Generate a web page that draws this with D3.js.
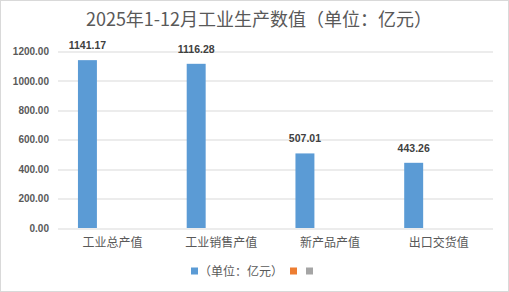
<!DOCTYPE html>
<html>
<head>
<meta charset="utf-8">
<script src="https://cdn.jsdelivr.net/npm/d3@7"></script>
<style>
  body { margin: 0; background: #fff; }
  text { font-family: "Noto Sans CJK SC", "Liberation Sans", sans-serif; }
</style>
</head>
<body>
<div id="chart"></div>
<script>
// data
const categories = ["工业总产值", "工业销售产值", "新产品产值", "出口交货值"];
const seriesNames = ["（单位：亿元）", "", ""];
const seriesColors = ["#5b9bd5", "#ed7d31", "#a5a5a5"];
const values = [1141.17, 1116.28, 507.01, 443.26];
const yTicks = [0, 200, 400, 600, 800, 1000, 1200];

const W = 509, H = 292;
const margin = {top: 51.5, right: 16, bottom: 64, left: 58};
const width = W - margin.left - margin.right;
const height = H - margin.top - margin.bottom;

const svg = d3.select("#chart").append("svg")
  .attr("width", W).attr("height", H);

svg.append("rect")
  .attr("x", 0.5).attr("y", 0.5)
  .attr("width", W - 1).attr("height", H - 1)
  .attr("fill", "#fff").attr("stroke", "#d9d9d9");

svg.append("text")
  .attr("x", 259).attr("y", 26)
  .attr("text-anchor", "middle")
  .attr("font-size", 18)
  .attr("fill", "#595959")
  .text("2025年1-12月工业生产数值（单位：亿元）");

const g = svg.append("g")
  .attr("transform", "translate(" + margin.left + "," + margin.top + ")");

const x0 = d3.scaleBand().domain(categories).range([0, width]).paddingInner(0).paddingOuter(0);
const x1 = d3.scaleBand().domain([0, 1, 2]).range([0, x0.bandwidth()])
  .paddingInner(0.24).paddingOuter(0.8);
const y = d3.scaleLinear().domain([0, 1200]).range([height, 0]);

// grid
g.selectAll(".grid")
  .data(yTicks)
  .enter().append("line")
  .attr("class", "grid")
  .attr("x1", 0).attr("x2", width)
  .attr("y1", d => Math.round(y(d)) + 0.5)
  .attr("y2", d => Math.round(y(d)) + 0.5)
  .attr("stroke", "#d9d9d9");

// y axis labels
const yAxis = g.append("g")
  .call(d3.axisLeft(y).tickValues(yTicks).tickFormat(d3.format(".2f")).tickSize(0).tickPadding(9));
yAxis.select(".domain").remove();
yAxis.selectAll("text")
  .attr("font-size", 10).attr("font-weight", "bold")
  .attr("fill", "#595959")
  .style("font-family", "'Liberation Sans', sans-serif");

// x axis labels
const xAxis = g.append("g")
  .attr("transform", "translate(0," + height + ")")
  .call(d3.axisBottom(x0).tickSize(0).tickPadding(10));
xAxis.select(".domain").remove();
xAxis.selectAll("text")
  .attr("font-size", 12).attr("fill", "#595959");

// bars
g.selectAll(".bar")
  .data(values)
  .enter().append("rect")
  .attr("class", "bar")
  .attr("x", (d, i) => x0(categories[i]) + x1(0))
  .attr("width", x1.bandwidth())
  .attr("y", d => y(d))
  .attr("height", d => height - y(d))
  .attr("fill", seriesColors[0]);

g.selectAll(".val")
  .data(values)
  .enter().append("text")
  .attr("class", "val")
  .attr("x", (d, i) => x0(categories[i]) + x1(0) + x1.bandwidth() / 2)
  .attr("y", d => y(d) - 11)
  .attr("text-anchor", "middle")
  .attr("font-size", 10.5).attr("font-weight", "bold")
  .attr("fill", "#404040")
  .style("font-family", "'Liberation Sans', sans-serif")
  .text(d => d.toFixed(2));

// legend
const legend = svg.append("g").attr("transform", "translate(191,271)");
legend.append("rect").attr("x", 0).attr("y", -3.5).attr("width", 7).attr("height", 7).attr("fill", seriesColors[0]);
legend.append("text").attr("x", 8).attr("y", 4.5).attr("font-size", 12).attr("fill", "#595959").text(seriesNames[0]);
legend.append("rect").attr("x", 99).attr("y", -3.5).attr("width", 7).attr("height", 7).attr("fill", seriesColors[1]);
legend.append("rect").attr("x", 115).attr("y", -3.5).attr("width", 7).attr("height", 7).attr("fill", seriesColors[2]);
</script>
</body>
</html>
